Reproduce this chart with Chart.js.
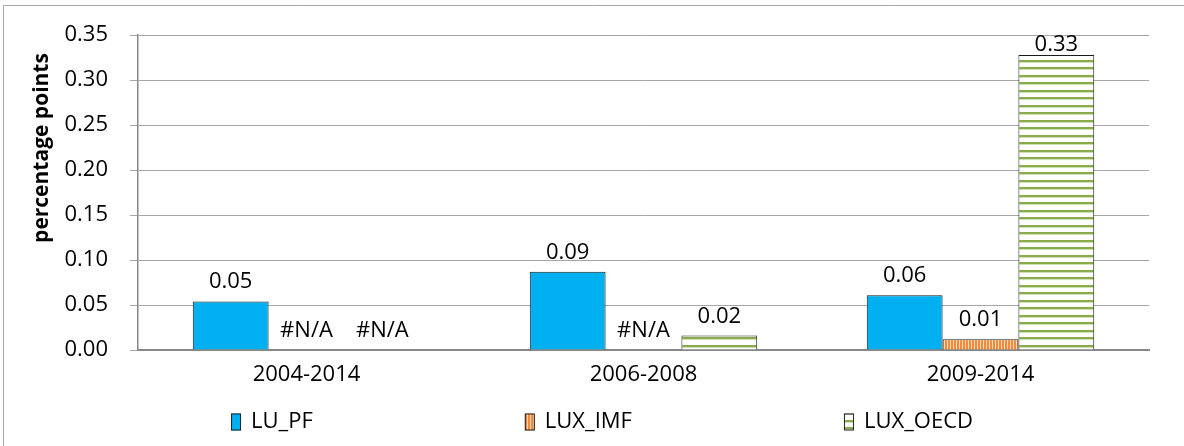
<!DOCTYPE html>
<html>
<head>
<meta charset="utf-8">
<script src="https://cdn.jsdelivr.net/npm/chart.js@4.4.1/dist/chart.umd.min.js"></script>
<style>
    html, body { margin: 0; padding: 0; background: #fff; }
    #wrap { position: relative; width: 1184px; height: 446px; }
</style>
</head>
<body>
<div id="wrap"><canvas id="barChart" width="1184" height="446"></canvas></div>
<script>
// Chart data
const categories = ['2004-2014', '2006-2008', '2009-2014'];
const luPf = [0.054, 0.087, 0.061];
const luxImf = [null, null, 0.012];
const luxOecd = [null, 0.016, 0.328];
const seriesNames = ['LU_PF', 'LUX_IMF', 'LUX_OECD'];
const yMin = 0, yMax = 0.35, yStep = 0.05;

const FONT = '"Open Sans", "DejaVu Sans", sans-serif';

// Hatch patterns like the Excel fills
function makePattern(w, h, paint) {
    const c = document.createElement('canvas');
    c.width = w; c.height = h;
    const g = c.getContext('2d');
    g.fillStyle = '#fff';
    g.fillRect(0, 0, w, h);
    paint(g);
    return document.getElementById('barChart').getContext('2d').createPattern(c, 'repeat');
}
const imfFill = makePattern(3, 3, function(g) {
    g.fillStyle = '#f28a3a';
    g.fillRect(0, 0, 2, 3);
    g.fillStyle = '#fbd9bd';
    g.fillRect(2, 0, 1, 3);
});
const oecdFill = makePattern(8, 15, function(g) {
    g.fillStyle = '#8aab4c';
    g.fillRect(0, 0, 8, 2);
    g.fillRect(0, 7, 8, 2);
    g.fillStyle = '#cfe0b4';
    g.fillRect(0, 2, 8, 1);
    g.fillRect(0, 9, 8, 1);
});

// Outer frame of the chart object
const framePlugin = {
    id: 'frame',
    beforeDraw(chart) {
        const ctx = chart.ctx;
        ctx.save();
        ctx.strokeStyle = '#a6a6a6';
        ctx.lineWidth = 1;
        ctx.beginPath();
        ctx.moveTo(3.5, chart.height);
        ctx.lineTo(3.5, 5.5);
        ctx.lineTo(chart.width, 5.5);
        ctx.stroke();
        ctx.restore();
    }
};

// Value labels above bars, #N/A where no value
const labelPlugin = {
    id: 'valueLabels',
    afterDatasetsDraw(chart) {
        const ctx = chart.ctx;
        const top = chart.chartArea.top;
        ctx.save();
        ctx.font = '22px ' + FONT;
        ctx.fillStyle = '#000';
        ctx.textAlign = 'center';
        ctx.textBaseline = 'alphabetic';
        chart.data.datasets.forEach(function(ds, i) {
            const meta = chart.getDatasetMeta(i);
            meta.data.forEach(function(bar, j) {
                const v = ds.data[j];
                const yBase = chart.scales.y.getPixelForValue(0);
                let y = (v === null ? yBase : bar.y) - 13;
                if (y - 16 < top) y = top + 16;
                ctx.fillText(v === null ? '#N/A' : v.toFixed(2), bar.x, y);
            });
        });
        ctx.restore();
    }
};

// Axis title and legend drawn the Excel way
const extrasPlugin = {
    id: 'extras',
    afterDraw(chart) {
        const ctx = chart.ctx;
        ctx.save();
        ctx.font = 'bold 21px ' + FONT;
        ctx.fillStyle = '#000';
        ctx.textAlign = 'center';
        ctx.textBaseline = 'middle';
        ctx.translate(42, 148);
        ctx.rotate(-Math.PI / 2);
        ctx.fillText('percentage points', 0, 0);
        ctx.restore();

        ctx.save();
        ctx.font = '22px ' + FONT;
        ctx.textBaseline = 'middle';
        ctx.textAlign = 'left';
        const boxW = 10, boxH = 17, gapText = 10, gap = 212;
        const items = chart.data.datasets.map(function(ds) {
            return { ds: ds, w: boxW + gapText + ctx.measureText(ds.label).width };
        });
        const total = items.reduce(function(s, it) { return s + it.w; }, 0) + gap * (items.length - 1);
        let x = 602 - total / 2;
        const yc = 422;
        items.forEach(function(it) {
            ctx.fillStyle = it.ds.backgroundColor;
            ctx.fillRect(x, yc - boxH / 2, boxW, boxH);
            ctx.strokeStyle = '#222';
            ctx.lineWidth = 1;
            ctx.strokeRect(x + 0.5, yc - boxH / 2 + 0.5, boxW - 1, boxH - 1);
            ctx.fillStyle = '#000';
            ctx.fillText(it.ds.label, x + boxW + gapText, yc);
            x += it.w + gap;
        });
        ctx.restore();
    }
};

const ctx = document.getElementById('barChart');
new Chart(ctx.getContext('2d'), {
    type: 'bar',
    data: {
        labels: categories,
        datasets: [{
            label: seriesNames[0],
            data: luPf,
            backgroundColor: '#00b0f0',
            borderColor: '#1a1a1a',
            borderWidth: 1
        }, {
            label: seriesNames[1],
            data: luxImf,
            backgroundColor: imfFill,
            borderColor: '#1a1a1a',
            borderWidth: 1
        }, {
            label: seriesNames[2],
            data: luxOecd,
            backgroundColor: oecdFill,
            borderColor: '#1a1a1a',
            borderWidth: 1
        }]
    },
    options: {
        responsive: false,
        animation: false,
        devicePixelRatio: 1,
        layout: { padding: { left: 0, right: 35, top: 33, bottom: 50 } },
        datasets: { bar: { barPercentage: 1, categoryPercentage: 0.675 } },
        plugins: {
            legend: { display: false },
            tooltip: { enabled: false },
            title: { display: false }
        },
        scales: {
            x: {
                grid: { display: false, drawTicks: false },
                border: { display: true, color: '#888', width: 2 },
                ticks: { color: '#000', padding: 12, font: { family: FONT, size: 22 } },
                afterFit: function(scale) { scale.height = 46; }
            },
            y: {
                min: yMin,
                max: yMax,
                grid: { color: '#a6a6a6', lineWidth: 1, tickLength: 8 },
                border: { display: true, color: '#888', width: 1.5 },
                ticks: {
                    stepSize: yStep,
                    color: '#000',
                    padding: 22,
                    font: { family: FONT, size: 22 },
                    callback: function(v) { return v.toFixed(2); }
                },
                afterFit: function(scale) { scale.width = 138; }
            }
        }
    },
    plugins: [framePlugin, labelPlugin, extrasPlugin]
});
</script>
</body>
</html>
